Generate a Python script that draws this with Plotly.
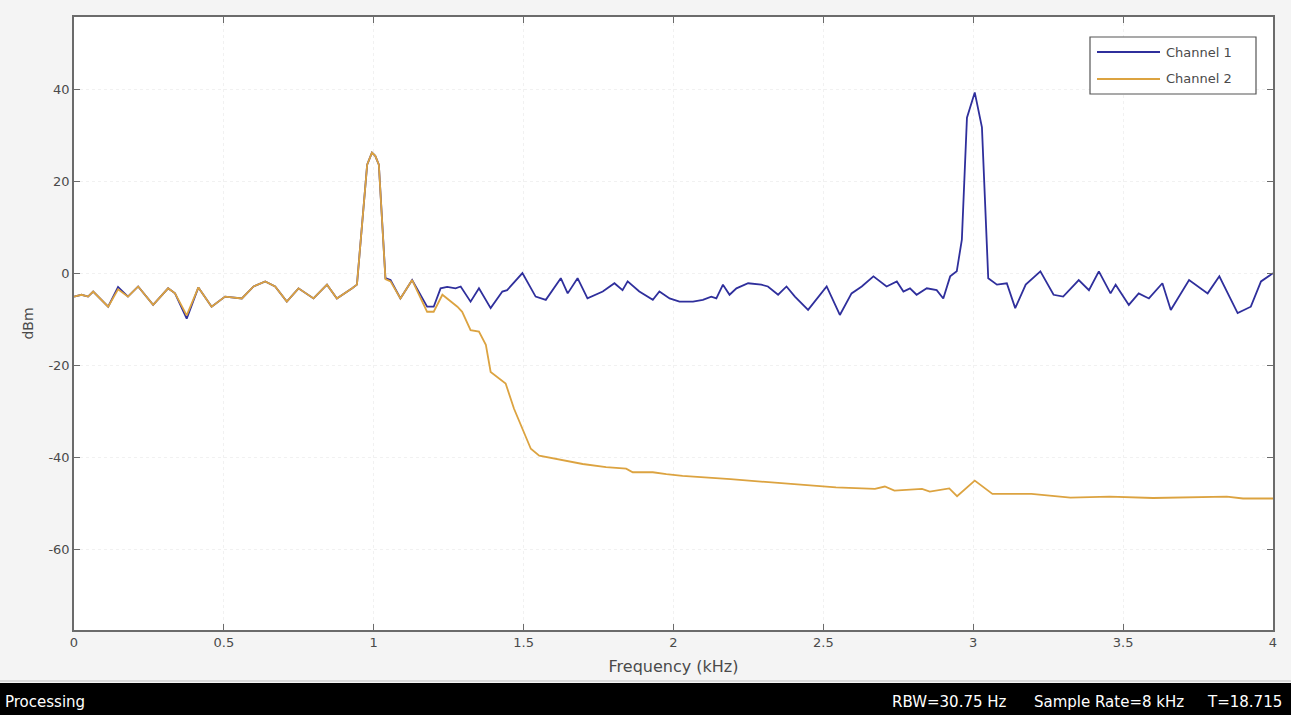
import plotly.graph_objects as go

# ---- data (frequency in kHz, level in dBm) ----
ch1_freq = [0.000, 0.025, 0.047, 0.064, 0.114, 0.147, 0.180, 0.214, 0.264, 0.314,
            0.337, 0.376, 0.415, 0.459, 0.504, 0.560, 0.599, 0.638, 0.671, 0.710,
            0.749, 0.799, 0.844, 0.877, 0.928, 0.944, 0.978, 0.994, 1.005, 1.017,
            1.039, 1.056, 1.089, 1.128, 1.178, 1.200, 1.223, 1.245, 1.273, 1.290,
            1.323, 1.351, 1.390, 1.429, 1.445, 1.496, 1.540, 1.574, 1.624, 1.647,
            1.680, 1.713, 1.764, 1.803, 1.830, 1.847, 1.886, 1.931, 1.953, 1.987,
            2.020, 2.065, 2.098, 2.126, 2.143, 2.165, 2.187, 2.210, 2.249, 2.293,
            2.315, 2.349, 2.377, 2.405, 2.449, 2.511, 2.555, 2.594, 2.628, 2.667,
            2.711, 2.745, 2.767, 2.789, 2.811, 2.845, 2.878, 2.900, 2.923, 2.945,
            2.962, 2.979, 3.005, 3.029, 3.050, 3.079, 3.112, 3.140, 3.175, 3.224,
            3.268, 3.300, 3.352, 3.386, 3.419, 3.458, 3.475, 3.519, 3.552, 3.586,
            3.631, 3.659, 3.720, 3.782, 3.821, 3.882, 3.926, 3.960, 4.000]
ch1_dbm = [-5.1, -4.7, -5.1, -4.0, -7.3, -3.0, -5.1, -2.9, -6.9, -3.3,
           -4.4, -9.9, -3.1, -7.3, -5.1, -5.5, -2.9, -1.8, -2.9, -6.2,
           -3.3, -5.5, -2.5, -5.5, -3.3, -2.5, 23.6, 26.2, 25.5, 23.6,
           -1.1, -1.5, -5.5, -1.5, -7.3, -7.3, -3.3, -3.0, -3.3, -2.9,
           -6.2, -3.3, -7.6, -4.0, -3.7, 0.0, -5.1, -5.8, -1.1, -4.4,
           -1.1, -5.5, -4.0, -2.2, -3.7, -1.8, -4.0, -5.8, -4.0, -5.5,
           -6.2, -6.2, -5.8, -5.1, -5.5, -2.5, -4.7, -3.3, -2.2, -2.5,
           -2.9, -4.7, -2.9, -5.1, -8.0, -2.9, -9.1, -4.4, -2.9, -0.7,
           -2.9, -1.8, -4.0, -3.3, -4.7, -3.3, -3.7, -5.5, -0.7, 0.4,
           7.3, 33.8, 39.3, 31.7, -1.1, -2.5, -2.2, -7.6, -2.5, 0.4,
           -4.7, -5.1, -1.5, -3.7, 0.4, -4.4, -2.5, -6.9, -4.4, -5.5,
           -2.2, -8.0, -1.5, -4.4, -0.7, -8.7, -7.3, -1.8, 0.0]

ch2_freq = [0.000, 0.025, 0.047, 0.064, 0.114, 0.147, 0.180, 0.214, 0.264, 0.314,
            0.337, 0.376, 0.415, 0.459, 0.504, 0.560, 0.599, 0.638, 0.671, 0.710,
            0.749, 0.799, 0.844, 0.877, 0.928, 0.944, 0.978, 0.994, 1.005, 1.017,
            1.039, 1.056, 1.089, 1.128, 1.178, 1.200, 1.229, 1.279, 1.295, 1.323,
            1.351, 1.374, 1.390, 1.418, 1.440, 1.468, 1.496, 1.524, 1.552, 1.608,
            1.697, 1.775, 1.842, 1.864, 1.931, 1.976, 2.030, 2.190, 2.346, 2.542,
            2.672, 2.705, 2.737, 2.829, 2.855, 2.920, 2.946, 3.005, 3.064, 3.194,
            3.324, 3.455, 3.600, 3.846, 3.900, 4.000]
ch2_dbm = [-5.1, -4.7, -5.1, -4.0, -7.3, -3.5, -5.1, -2.9, -6.9, -3.3,
           -4.4, -9.2, -3.1, -7.3, -5.1, -5.5, -2.9, -1.8, -2.9, -6.2,
           -3.3, -5.5, -2.5, -5.5, -3.3, -2.5, 23.6, 26.2, 25.5, 23.6,
           -1.3, -1.8, -5.5, -1.5, -8.4, -8.4, -4.7, -7.3, -8.4, -12.4,
           -12.7, -15.6, -21.5, -22.9, -24.0, -29.5, -33.8, -38.2, -39.7, -40.4,
           -41.5, -42.2, -42.5, -43.3, -43.3, -43.7, -44.1, -44.8, -45.6, -46.6,
           -46.9, -46.4, -47.3, -46.9, -47.5, -46.8, -48.5, -45.1, -48.0, -48.0,
           -48.8, -48.6, -48.9, -48.6, -49.0, -49.0]

x_ticks = [0, 0.5, 1, 1.5, 2, 2.5, 3, 3.5, 4]
x_tick_text = ["0", "0.5", "1", "1.5", "2", "2.5", "3", "3.5", "4"]
y_ticks = [-60, -40, -20, 0, 20, 40]
y_tick_text = ["-60", "-40", "-20", "0", "20", "40"]
series_names = ["Channel 1", "Channel 2"]
series_colors = ["#2f2f9c", "#dca340"]
status_left = "Processing"
status_right = ["RBW=30.75 Hz", "Sample Rate=8 kHz", "T=18.715"]

FONT = "Liberation Sans, Arial, sans-serif"
WFONT = "DejaVu Sans, Liberation Sans, sans-serif"
TXT = "#4a4a4a"

W, H = 1291, 715
L, R, T, B = 74, 18, 17, 85
pw = W - L - R
ph = H - T - B


def px_x(px):
    return (px - L) / pw


def px_y(py):
    return 1 - (py - T) / ph


fig = go.Figure()
for name, xs, ys, col in [(series_names[0], ch1_freq, ch1_dbm, series_colors[0]),
                          (series_names[1], ch2_freq, ch2_dbm, series_colors[1])]:
    fig.add_trace(go.Scatter(x=xs, y=ys, mode="lines", name=name, showlegend=False,
                             line=dict(color=col, width=1.8)))

axis_common = dict(
    showline=True, linecolor="#6b6b6b", linewidth=1.5, mirror="ticks",
    ticks="inside", ticklen=6, tickcolor="#6b6b6b", tickwidth=1,
    showgrid=True, gridcolor="#f1f1f1", griddash="dot", gridwidth=1,
    zeroline=False,
    tickfont=dict(family=WFONT, size=13, color=TXT),
)

fig.update_layout(
    width=W, height=H,
    margin=dict(l=L, r=R, t=T, b=B, autoexpand=False),
    paper_bgcolor="#f4f4f4", plot_bgcolor="#ffffff",
    font=dict(family=FONT, color=TXT),
    xaxis=dict(range=[0, 4], tickvals=x_ticks, ticktext=x_tick_text,
               title=dict(text="Frequency (kHz)", font=dict(family=WFONT, size=16, color=TXT),
                          standoff=11),
               **axis_common),
    yaxis=dict(range=[-77.6, 55.7], tickvals=y_ticks, ticktext=y_tick_text,
               title=dict(text="dBm", font=dict(family=WFONT, size=14, color=TXT),
                          standoff=12),
               **axis_common),
    showlegend=False,
)

# ---- legend box drawn to match the long line samples of the reference ----
fig.add_shape(type="rect", xref="paper", yref="paper",
              x0=px_x(1090), x1=px_x(1256), y0=px_y(94), y1=px_y(37),
              fillcolor="#ffffff", line=dict(color="#555555", width=1.2))
for i, (name, col) in enumerate(zip(series_names, series_colors)):
    yy = 52 + 27 * i
    fig.add_shape(type="line", xref="paper", yref="paper",
                  x0=px_x(1097), x1=px_x(1160), y0=px_y(yy), y1=px_y(yy),
                  line=dict(color=col, width=1.8))
    fig.add_annotation(text=name, xref="paper", yref="paper",
                       x=px_x(1164), y=px_y(yy), xanchor="left", yanchor="middle",
                       showarrow=False, font=dict(family=WFONT, size=13, color=TXT))

# ---- status bar at the bottom ----
fig.add_shape(type="rect", xref="paper", yref="paper",
              x0=px_x(-5), x1=px_x(W + 5), y0=px_y(683), y1=px_y(H + 5),
              fillcolor="#000000", line=dict(width=0), layer="above")
fig.add_shape(type="line", xref="paper", yref="paper",
              x0=px_x(0), x1=px_x(W), y0=px_y(681), y1=px_y(681),
              line=dict(color="#bdbdbd", width=1))
fig.add_annotation(text=status_left, xref="paper", yref="paper",
                   x=px_x(3), y=px_y(702), xanchor="left", yanchor="middle",
                   showarrow=False, font=dict(family=WFONT, size=15, color="#ffffff"))
for txt, right_px in zip(status_right, [1009, 1186, 1284]):
    fig.add_annotation(text=txt, xref="paper", yref="paper",
                       x=px_x(right_px), y=px_y(702), xanchor="right", yanchor="middle",
                       showarrow=False, font=dict(family=WFONT, size=15, color="#ffffff"))

fig.write_html("out.html", config={"displayModeBar": False},
               post_script="document.body.style.margin='0';document.body.style.overflow='hidden';")
